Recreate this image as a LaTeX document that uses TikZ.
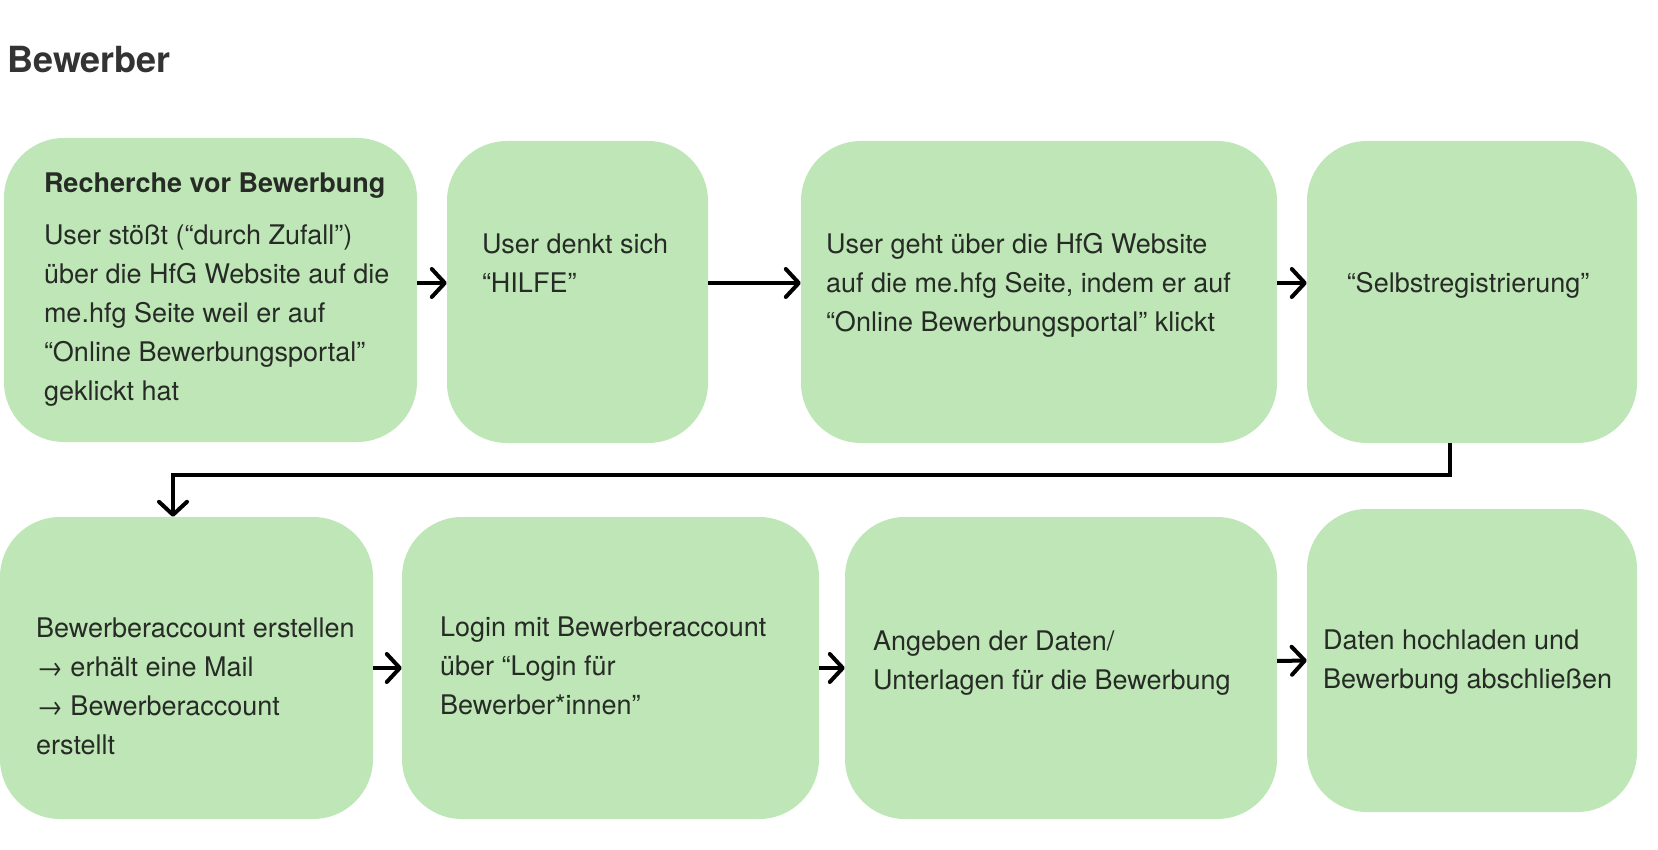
\documentclass[tikz,border=0pt]{standalone}
\usepackage{fontspec}
\setmainfont{TeX Gyre Heros}
\usetikzlibrary{positioning,arrows.meta}
\definecolor{boxgreen}{HTML}{BFE6B6}
\definecolor{textdark}{HTML}{262B26}
\definecolor{headgray}{HTML}{333333}
\tikzset{
    box/.style={rectangle, rounded corners=60pt, fill=boxgreen, draw=none,
    	minimum height=302pt, inner sep=0pt}
}
\tikzset{
    txt/.style={inner sep=0pt, align=left, text=textdark,
    	font=\fontsize{27pt}{39pt}\selectfont}
}
\tikzset{
	flow/.style={line width=4pt, -{Straight Barb[length=13pt,width=28pt,round]}}
}

\begin{document}
\begin{tikzpicture}[x=1pt, y=-1pt]
  \useasboundingbox (0,0) rectangle (1658,850);
  \node (title) [anchor=base west, inner sep=0pt, text=headgray,
    font=\fontsize{36pt}{40pt}\selectfont\bfseries] at (7,73) {Bewerber};

  % first row
  \node (1) [box, minimum width=413pt, minimum height=304pt] at (210.5,290) {};
  \node (2) [box, minimum width=261pt] at (577.5,292) {};
  \node (3) [box, minimum width=476pt] at (1039,292) {};
  \node (4) [box, minimum width=330pt] at (1472,292) {};
  % second row
  \node (5) [box, minimum width=373pt] at (186.5,668) {};
  \node (6) [box, minimum width=417pt] at (610.5,668) {};
  \node (7) [box, minimum width=432pt] at (1061,668) {};
  \node (8) [box, minimum width=330pt, minimum height=303pt] at (1472,660.5) {};

  \node (1t) [txt, right=40pt of 1.west] {\textbf{Recherche vor Bewerbung}\\[13pt]
    User stößt (“durch Zufall”)\\über die HfG Website auf die\\me.hfg Seite weil er auf\\
    “Online Bewerbungsportal”\\geklickt hat};
  \node (2t) [txt, right=35pt of 2.west, yshift=29pt] {User denkt sich\\“HILFE”};
  \node (3t) [txt, right=25pt of 3.west, yshift=7pt] {User geht über die HfG Website\\
    auf die me.hfg Seite, indem er auf\\“Online Bewerbungsportal” klickt};
  \node (4t) [txt, xshift=-4pt, yshift=7pt] at (4.center) {“Selbstregistrierung”};
  \node (5t) [txt, right=36pt of 5.west, yshift=-18pt] {Bewerberaccount erstellen\\
    → erhält eine Mail\\→ Bewerberaccount\\erstellt};
  \node (6t) [txt, right=38pt of 6.west, yshift=2pt] {Login mit Bewerberaccount\\
    über “Login für\\Bewerber*innen”};
  \node (7t) [txt, right=28pt of 7.west, yshift=5pt] {Angeben der Daten/\\
    Unterlagen für die Bewerbung};
  \node (8t) [txt, right=16pt of 8.west, yshift=-1.5pt] {Daten hochladen und\\
    Bewerbung abschließen};

  \coordinate (turn) at (173,475);
  \draw[flow] ([yshift=7pt]1.east) -- ([yshift=9pt]2.west);
  \draw[flow] ([yshift=9pt]2.east) -- ([yshift=9pt]3.west);
  \draw[flow] ([yshift=9pt]3.east) -- ([yshift=9pt]4.west);
  \draw[flow] ([xshift=-22pt]4.south) |- (turn) -- ([xshift=-13.5pt]5.north);
  \draw[flow] (5.east) -- (6.west);
  \draw[flow] (6.east) -- (7.west);
  \draw[flow] ([yshift=7pt]7.east) -- (8.west);
\end{tikzpicture}
\end{document}
